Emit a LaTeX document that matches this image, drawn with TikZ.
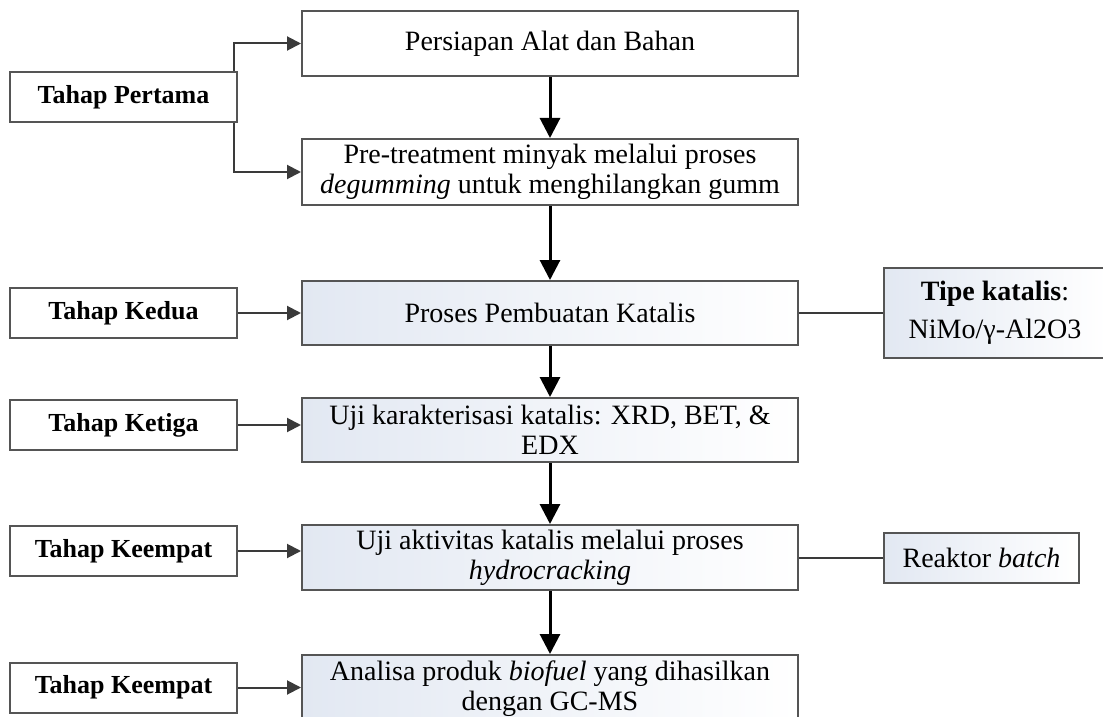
\documentclass[tikz,border=0pt]{standalone}
\usepackage{fontspec}
\setmainfont{Liberation Serif}
\usetikzlibrary{arrows.meta,calc}
\definecolor{boxgray}{HTML}{555555}
\definecolor{shadeblue}{HTML}{E2E8F2}
\definecolor{arrowgray}{HTML}{3A3A3A}
\begin{document}
\begin{tikzpicture}[x=0.5pt,y=-0.5pt,
  mainbox/.style={draw=boxgray, line width=1pt, inner sep=0pt, align=center,
    minimum width=248pt, font=\fontsize{14}{15}\selectfont},
  shadedbox/.style={left color=shadeblue, right color=white},
  tahapbox/.style={draw=boxgray, line width=1pt, inner sep=0pt, align=center,
    minimum width=113.5pt, minimum height=25pt, fill=white,
    font=\bfseries\fontsize{13}{14}\selectfont},
  sidebox/.style={draw=boxgray, line width=1pt, inner sep=0pt, align=center,
    left color=shadeblue, right color=white, font=\fontsize{14}{19}\selectfont},
  mainarrow/.style={line width=1.5pt, black, -{Triangle[length=10pt,width=10pt]}},
  sidearrow/.style={line width=1pt, arrowgray, -{Triangle[length=7pt,width=7pt]}},
  conn/.style={line width=1pt, arrowgray}]
\useasboundingbox (0,0) rectangle (1103,717);
\clip (0,0) rectangle (1103,717);
\fill[white] (0,0) rectangle (1103,717);

% main column
\node[mainbox, fill=white, minimum height=32.5pt] (b1) at (550,43.5) {Persiapan Alat dan Bahan};
\node[mainbox, fill=white, minimum height=33pt] (b2) at (550,172) {Pre-treatment minyak melalui proses\\\textit{degumming} untuk menghilangkan gumm};
\node[mainbox, shadedbox, minimum height=32pt] (b3) at (550,313) {Proses Pembuatan Katalis};
\node[mainbox, shadedbox, minimum height=32pt] (b4) at (550,430) {Uji karakterisasi katalis: XRD, BET, \&\\EDX};
\node[mainbox, shadedbox, minimum height=32.5pt] (b5) at (550,557.5) {Uji aktivitas katalis melalui proses\\\textit{hydrocracking}};
\node[mainbox, shadedbox, minimum height=33.5pt] (b6) at (550,688.5) {Analisa produk \textit{biofuel} yang dihasilkan\\dengan GC-MS};

% left column
\node[tahapbox] (tp) at (123.5,97) {Tahap Pertama};
\node[tahapbox] (t2) at (123.5,313) {Tahap Kedua};
\node[tahapbox] (t3) at (123.5,425) {Tahap Ketiga};
\node[tahapbox] (t4) at (123.5,551) {Tahap Keempat};
\node[tahapbox] (t5) at (123.5,687.5) {Tahap Keempat};

% right column
\node[sidebox, minimum width=111pt, minimum height=45pt] (tipe) at (995,313) {\textbf{Tipe katalis}:\\NiMo/γ-Al2O3};
\node[sidebox, minimum width=97.5pt, minimum height=25pt] (rk) at (981.5,558) {Reaktor \textit{batch}};

% vertical flow
\draw[mainarrow] (b1.south) -- (b2.north);
\draw[mainarrow] (b2.south) -- (b3.north);
\draw[mainarrow] (b3.south) -- (b4.north);
\draw[mainarrow] (b4.south) -- (b5.north);
\draw[mainarrow] (b5.south) -- (b6.north);

% left arrows
\draw[sidearrow] ($(tp.north east)+(-4,0)$) |- (b1.west);
\draw[sidearrow] ($(tp.south east)+(-4,0)$) |- (b2.west);
\draw[sidearrow] (t2.east) -- (t2.east -| b3.west);
\draw[sidearrow] (t3.east) -- (t3.east -| b4.west);
\draw[sidearrow] (t4.east) -- (t4.east -| b5.west);
\draw[sidearrow] (t5.east) -- (t5.east -| b6.west);

% right connectors
\draw[conn] (b3.east) -- (b3.east -| tipe.west);
\draw[conn] (b5.east) -- (b5.east -| rk.west);
\end{tikzpicture}
\end{document}
